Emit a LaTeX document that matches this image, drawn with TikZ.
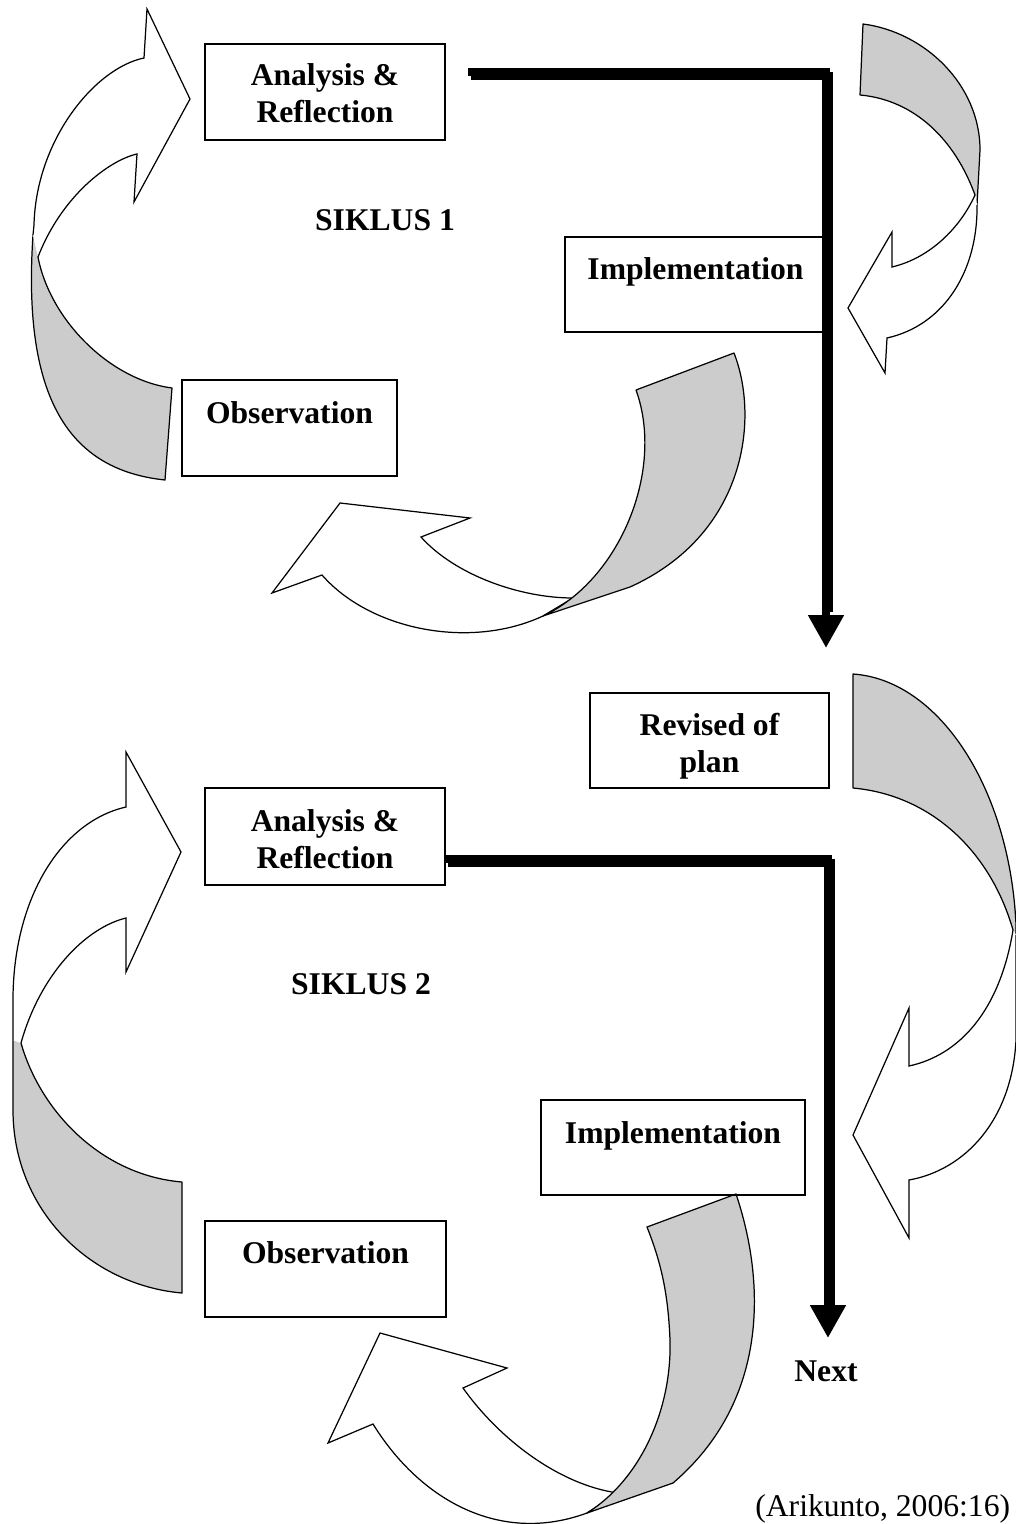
\documentclass[tikz,border=0pt]{standalone}
\usepackage{fontspec}
\setmainfont{Liberation Serif}
\usetikzlibrary{arrows.meta}
\definecolor{bandgray}{HTML}{CCCCCC}
\begin{document}
\begin{tikzpicture}[x=0.02cm,y=-0.02cm,
  box/.style={draw, line width=0.8pt, rectangle, inner sep=0pt, outer sep=0pt},
  lbl/.style={font=\fontsize{18}{21}\selectfont\bfseries, anchor=base, inner sep=0pt},
  src/.style={font=\fontsize{18}{21}\selectfont, anchor=base west, inner sep=0pt},
  band/.style={draw, line width=0.7pt, line join=round, fill=bandgray},
  face/.style={draw, line width=0.7pt, line join=miter, fill=white},
  flow/.style={line width=0.16cm, line join=miter, line cap=butt},
  flowtip/.style={-{Triangle[length=0.66cm,width=0.68cm]}}
]
\useasboundingbox (0,0) rectangle (1016,1524);

% ---------------- SIKLUS 1 ----------------
% curved arrow, left (Observation -> Analysis)
\path[band] (38,257) .. controls (50,320) and (110,380) .. (172,388) -- (165,480)
  .. controls (70,470) and (22,400) .. (33,235);
\path[face] (33,235) -- (34,225) .. controls (36,140) and (95,68) .. (144,58) -- (147,9)
  -- (190,99) -- (134,202) -- (137,154) .. controls (110,160) and (62,195) .. (38,257);

% curved arrow, right (top -> Implementation)
\path[band] (975,195) .. controls (955,140) and (915,100) .. (860,95) -- (863,24)
  .. controls (925,32) and (980,85) .. (980,150) -- (977,205);
\path[face] (977,205) .. controls (978,270) and (945,325) .. (887,338) -- (885,373)
  -- (848,308) -- (892,232) -- (892,267) .. controls (930,258) and (960,228) .. (975,195);

% curved arrow, middle (Implementation -> Observation)
\path[face] (573,598) .. controls (520,598) and (455,575) .. (421,537) -- (470,518)
  -- (340,503) -- (272,593) -- (322,575) .. controls (370,630) and (470,650) .. (543,616) -- cycle;
\path[band] (636,390) -- (734,353) .. controls (760,420) and (745,535) .. (630,587) -- (543,616)
  .. controls (620,580) and (665,470) .. (636,390) -- cycle;

% boxes
\node[box, minimum width=4.8cm, minimum height=1.92cm] (ar1) at (325,92) {};
\node[box, minimum width=5.22cm, minimum height=1.9cm] (im1) at (695.5,284.5) {};
\node[box, minimum width=4.3cm, minimum height=1.92cm] (ob1) at (289.5,428) {};

\node[lbl] (ar1a) at (325,86) {Analysis \&};
\node[lbl] (ar1b) at (325,123) {Reflection};
\node[lbl] (im1t) at (695.5,279) {Implementation};
\node[lbl] (ob1t) at (289.5,423) {Observation};
\node[lbl] (sik1) at (385,231) {SIKLUS 1};

% thick flow line 1
\coordinate (f1a) at (468,72);
\coordinate (f1b) at (826,72);
\coordinate (f1c) at (826,612);
\coordinate (f1d) at (826,648);
\draw[flow] ([shift={(3,4)}]f1a) -- ([shift={(3,4)}]f1b) -- ([shift={(3,0)}]f1c);
\draw[flow, flowtip] (f1a) -- (f1b) -- (f1d);

% ---------------- SIKLUS 2 ----------------
% curved arrow, right (Revised plan -> Implementation)
\path[band] (1013,930) .. controls (990,850) and (930,795) .. (853,788) -- (853,674)
  .. controls (940,680) and (1010,790) .. (1016,925) -- (1016,935);
\path[face] (1016,935) -- (1016,1040) .. controls (1012,1120) and (965,1170) .. (909,1180)
  -- (909,1238) -- (853,1135) -- (909,1008) -- (909,1066)
  .. controls (960,1055) and (1000,1010) .. (1013,930);

% curved arrow, left (Observation -> Analysis)
\path[band] (21,1043) .. controls (40,1110) and (100,1175) .. (182,1182) -- (182,1293)
  .. controls (90,1285) and (13,1210) .. (13,1110) -- (13,1040);
\path[face] (13,1040) -- (13,1000) .. controls (13,900) and (60,822) .. (126,807) -- (126,752)
  -- (181,852) -- (126,972) -- (126,918) .. controls (85,928) and (40,975) .. (21,1043);

% curved arrow, middle (Implementation -> Observation)
\path[face] (618,1493) .. controls (560,1485) and (500,1440) .. (463,1388) -- (507,1368)
  -- (380,1333) -- (328,1443) -- (373,1424) .. controls (420,1500) and (500,1545) .. (587,1513) -- cycle;
\path[band] (647,1227) -- (736,1194) .. controls (765,1280) and (770,1400) .. (673,1483) -- (587,1513)
  .. controls (640,1480) and (672,1410) .. (670,1340) .. controls (668,1290) and (660,1260) .. (647,1227) -- cycle;

% boxes
\node[box, minimum width=4.78cm, minimum height=1.9cm] (rev) at (709.5,740.5) {};
\node[box, minimum width=4.8cm, minimum height=1.94cm] (ar2) at (325,836.5) {};
\node[box, minimum width=5.28cm, minimum height=1.9cm] (im2) at (673,1147.5) {};
\node[box, minimum width=4.82cm, minimum height=1.92cm] (ob2) at (325.5,1269) {};

\node[lbl] (reva) at (709.5,735) {Revised of};
\node[lbl] (revb) at (709.5,772) {plan};
\node[lbl] (ar2a) at (325,831) {Analysis \&};
\node[lbl] (ar2b) at (325,868) {Reflection};
\node[lbl] (sik2) at (361,994) {SIKLUS 2};
\node[lbl] (im2t) at (673,1143) {Implementation};
\node[lbl] (ob2t) at (325.5,1263) {Observation};
\node[lbl] (next) at (826,1381) {Next};

% thick flow line 2
\coordinate (f2b) at (828,859);
\coordinate (f2c) at (828,1305);
\coordinate (f2d) at (828,1338);
\draw[flow] ([shift={(3,4)}]ar2.east |- f2b) -- ([shift={(3,4)}]f2b) -- ([shift={(3,0)}]f2c);
\draw[flow, flowtip] (ar2.east |- f2b) -- (f2b) -- (f2d);

% source
\node[src] (source) at (755,1516) {(Arikunto, 2006:16)};
\end{tikzpicture}
\end{document}
